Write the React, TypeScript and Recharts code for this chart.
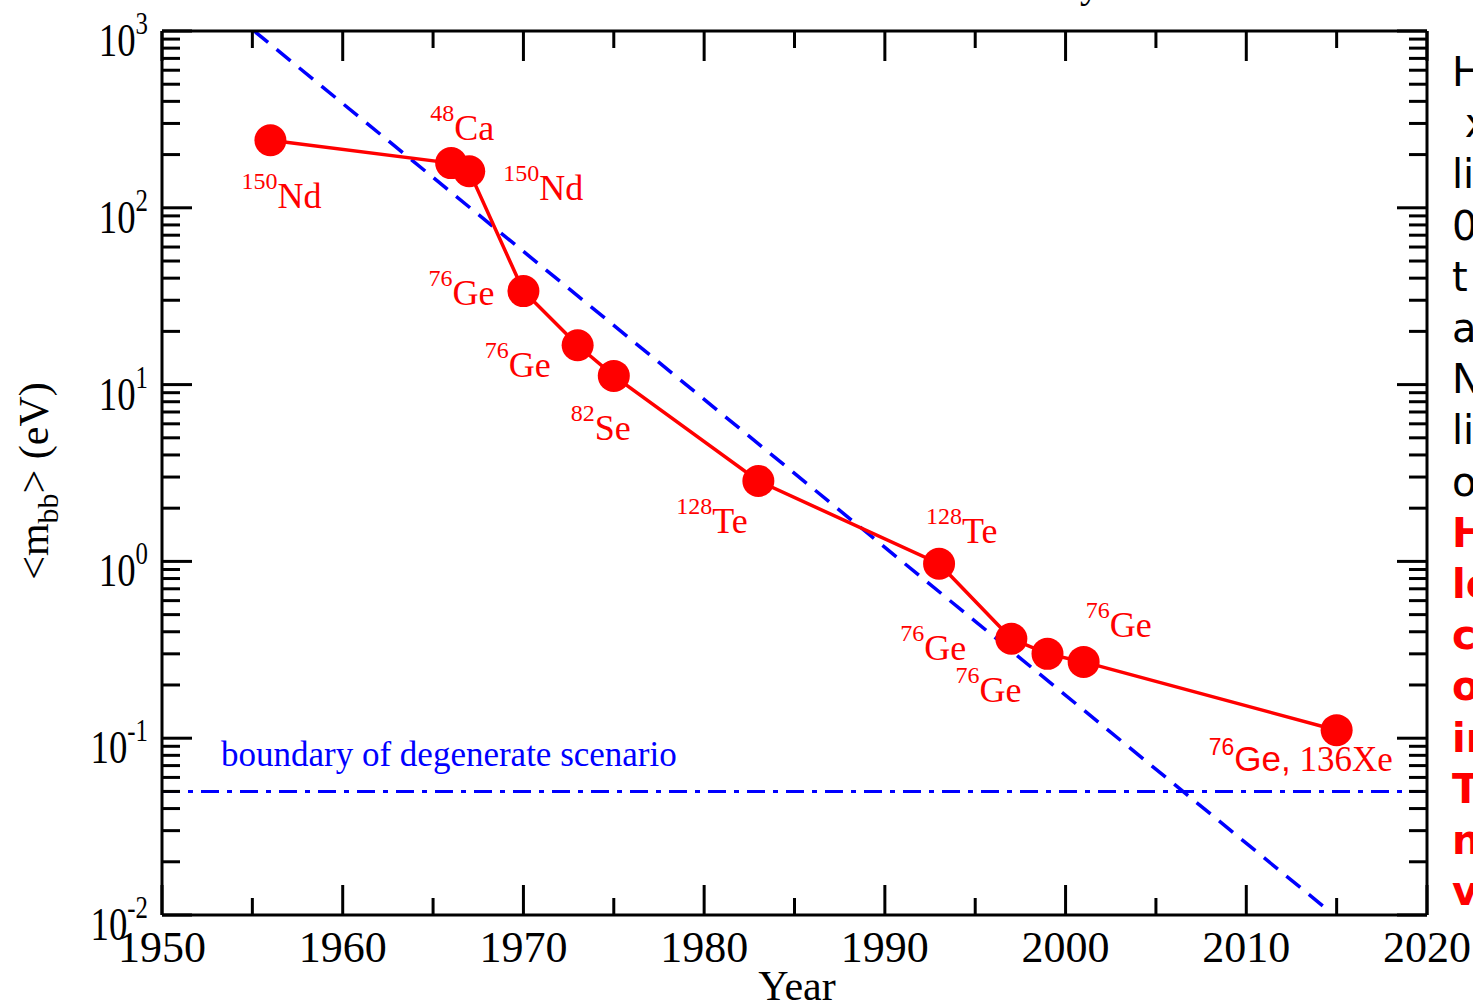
import React from "react";
import { ComposedChart, Line, XAxis, YAxis, ReferenceLine, LabelList } from "recharts";

// experiment years and <m_bb> upper limits (eV)
const years = [1956, 1966, 1967, 1970, 1973, 1975, 1983, 1993, 1997, 1999, 2001, 2015];
const massLimits = [241, 179, 161, 33.8, 16.7, 11.2, 2.85, 0.97, 0.365, 0.3, 0.27, 0.111];
const isotopeMass = ["150", "48", "150", "76", "76", "82", "128", "128", "76", "76", "76", "76"];
const isotopeElement = ["Nd", "Ca", "Nd", "Ge", "Ge", "Se", "Te", "Te", "Ge", "Ge", "Ge", "Ge,"];

// dashed trend line end points
const trendYears = [1955.1, 2014.5];
const trendValues = [1000, 0.0107];

const degenerateBoundary = 0.05;

const xTicks = [1950, 1955, 1960, 1965, 1970, 1975, 1980, 1985, 1990, 1995, 2000, 2005, 2010, 2015, 2020];
const decadeExponents = [-2, -1, 0, 1, 2, 3];
const minorSteps = [2, 3, 4, 5, 6, 7, 8, 9];

// cut-off side notes at the right edge of the picture
const sideNotesBlack = ["H", " x", "li", "0", "t", "a", "N", "li", "o"];
const sideNotesRed = ["H", "lo", "c", "o", "ir", "T", "n", "v"];

const W = 1473;
const H = 1005;
const LEFT = 162;
const RIGHT = 1427;
const TOP = 31;
const BOTTOM = 915;
const RED = "#ff0000";
const BLUE = "#0000ff";
const SERIF = "'Liberation Serif', 'Times New Roman', serif";
const SANS = "'Liberation Sans', Arial, sans-serif";

const data = years.map((year, idx) => ({ year, mass: massLimits[idx], idx }));
const trend = trendYears.map((year, i) => ({ year, trend: trendValues[i] }));

const yTicks: number[] = [];
decadeExponents.forEach((e) => {
  yTicks.push(Math.pow(10, e));
  if (e < 3) minorSteps.forEach((s) => yTicks.push(s * Math.pow(10, e)));
});

const isDecade = (v: number) => Math.abs(Math.log10(v) - Math.round(Math.log10(v))) < 1e-6;

// label placement relative to each point (px)
const labelOffsets = [
  [-29, 68], [-21, -23], [34, 29], [-95, 14], [-93, 32], [-43, 64],
  [-82, 52], [-13, -21], [-111, 21], [-92, 48], [2, -25], [-128, 41],
];

function BottomTick(props: any) {
  const { x, payload } = props;
  const major = payload.value % 10 === 0;
  return (
    <g>
      <line x1={x} x2={x} y1={BOTTOM} y2={BOTTOM - (major ? 30 : 17)} stroke="#000" strokeWidth={3} />
      {major && (
        <text x={x} y={BOTTOM + 47} textAnchor="middle" fontSize={44} fontFamily={SERIF} fill="#000">
          {payload.value}
        </text>
      )}
    </g>
  );
}

function TopTick(props: any) {
  const { x, payload } = props;
  const major = payload.value % 10 === 0;
  return <line x1={x} x2={x} y1={TOP} y2={TOP + (major ? 30 : 17)} stroke="#000" strokeWidth={3} />;
}

function LeftTick(props: any) {
  const { y, payload } = props;
  const major = isDecade(payload.value);
  const exp = Math.round(Math.log10(payload.value));
  return (
    <g>
      <line x1={LEFT} x2={LEFT + (major ? 30 : 18)} y1={y} y2={y} stroke="#000" strokeWidth={3} />
      {major && (
        <g transform={`translate(148, ${y + 25}) scale(0.8, 1)`}>
          <text x={0} y={0} textAnchor="end" fontFamily={SERIF} fill="#000">
            <tspan fontSize={46}>10</tspan>
            <tspan fontSize={31} dy={-22}>{exp}</tspan>
          </text>
        </g>
      )}
    </g>
  );
}

function RightTick(props: any) {
  const { y, payload } = props;
  const major = isDecade(payload.value);
  return <line x1={RIGHT} x2={RIGHT - (major ? 30 : 18)} y1={y} y2={y} stroke="#000" strokeWidth={3} />;
}

function IsotopeLabel(props: any) {
  const { x, y, value } = props;
  const i = Number(value);
  const [dx, dy] = labelOffsets[i];
  const bx = x + dx;
  const by = y + dy;
  if (i === years.length - 1) {
    return (
      <text x={bx} y={by} fill={RED}>
        <tspan fontFamily={SANS} fontSize={23} dy={-16}>{isotopeMass[i]}</tspan>
        <tspan fontFamily={SANS} fontSize={35} dy={16}>{isotopeElement[i]}</tspan>
        <tspan fontFamily={SERIF} fontSize={35}> 136Xe</tspan>
      </text>
    );
  }
  return (
    <text x={bx} y={by} fill={RED} fontFamily={SERIF}>
      <tspan fontSize={24} dy={-19}>{isotopeMass[i]}</tspan>
      <tspan fontSize={36} dy={19}>{isotopeElement[i]}</tspan>
    </text>
  );
}

export default function App() {
  return (
    <div style={{ position: "absolute", left: 0, top: 0, width: W, height: H, background: "#fff" }}>
      <ComposedChart width={W} height={H} data={data} margin={{ top: 0, right: 0, bottom: 0, left: 0 }}>
        <XAxis
          xAxisId="b"
          dataKey="year"
          type="number"
          domain={[1950, 2020]}
          ticks={xTicks}
          interval={0}
          height={H - BOTTOM}
          axisLine={{ stroke: "#000", strokeWidth: 3 }}
          tickLine={false}
          tick={<BottomTick />}
          allowDataOverflow
        />
        <XAxis
          xAxisId="t"
          orientation="top"
          dataKey="year"
          type="number"
          domain={[1950, 2020]}
          ticks={xTicks}
          interval={0}
          height={TOP}
          axisLine={{ stroke: "#000", strokeWidth: 3 }}
          tickLine={false}
          tick={<TopTick />}
          allowDataOverflow
        />
        <YAxis
          yAxisId="l"
          type="number"
          scale="log"
          domain={[0.01, 1000]}
          ticks={yTicks}
          interval={0}
          width={LEFT}
          axisLine={{ stroke: "#000", strokeWidth: 3 }}
          tickLine={false}
          tick={<LeftTick />}
          allowDataOverflow
        />
        <YAxis
          yAxisId="r"
          orientation="right"
          type="number"
          scale="log"
          domain={[0.01, 1000]}
          ticks={yTicks}
          interval={0}
          width={W - RIGHT}
          axisLine={{ stroke: "#000", strokeWidth: 3 }}
          tickLine={false}
          tick={<RightTick />}
          allowDataOverflow
        />
        <ReferenceLine
          xAxisId="b"
          yAxisId="l"
          y={degenerateBoundary}
          stroke={BLUE}
          strokeWidth={3}
          strokeDasharray="18 8 5 8"
          ifOverflow="visible"
        />
        <Line
          xAxisId="b"
          yAxisId="l"
          data={trend}
          dataKey="trend"
          stroke={BLUE}
          strokeWidth={3.5}
          strokeDasharray="18 11"
          dot={false}
          isAnimationActive={false}
        />
        <Line
          xAxisId="b"
          yAxisId="l"
          dataKey="mass"
          stroke={RED}
          strokeWidth={3.5}
          dot={{ r: 16, fill: RED, stroke: "none" }}
          isAnimationActive={false}
        >
          <LabelList dataKey="idx" content={<IsotopeLabel />} />
        </Line>
      </ComposedChart>
      <svg width={W} height={H} style={{ position: "absolute", left: 0, top: 0, pointerEvents: "none" }}>
        <text x={221} y={766} fontSize={35} fontFamily={SERIF} fill={BLUE}>
          boundary of degenerate scenario
        </text>
        <text x={797} y={1000} textAnchor="middle" fontSize={42} fontFamily={SERIF} fill="#000">
          Year
        </text>
        <text transform="translate(48, 481) rotate(-90)" textAnchor="middle" fontSize={42} fontFamily={SERIF} fill="#000">
          <tspan>&lt;m</tspan>
          <tspan fontSize={30} dy={10}>bb</tspan>
          <tspan dy={-10}>&gt; (eV)</tspan>
        </text>
        <text x={1080} y={-3} fontSize={40} fontFamily={SERIF} fill="#000">y</text>
        {sideNotesBlack.map((s, i) => (
          <text key={"b" + i} x={1452} y={86 + i * 51.2} fontSize={40} fontFamily="'DejaVu Sans', sans-serif" fill="#000" xmlSpace="preserve">
            {s}
          </text>
        ))}
        {sideNotesRed.map((s, i) => (
          <text key={"r" + i} x={1452} y={86 + (i + sideNotesBlack.length) * 51.2} fontSize={40} fontWeight="bold" fontFamily="'DejaVu Sans', sans-serif" fill={RED}>
            {s}
          </text>
        ))}
      </svg>
    </div>
  );
}
